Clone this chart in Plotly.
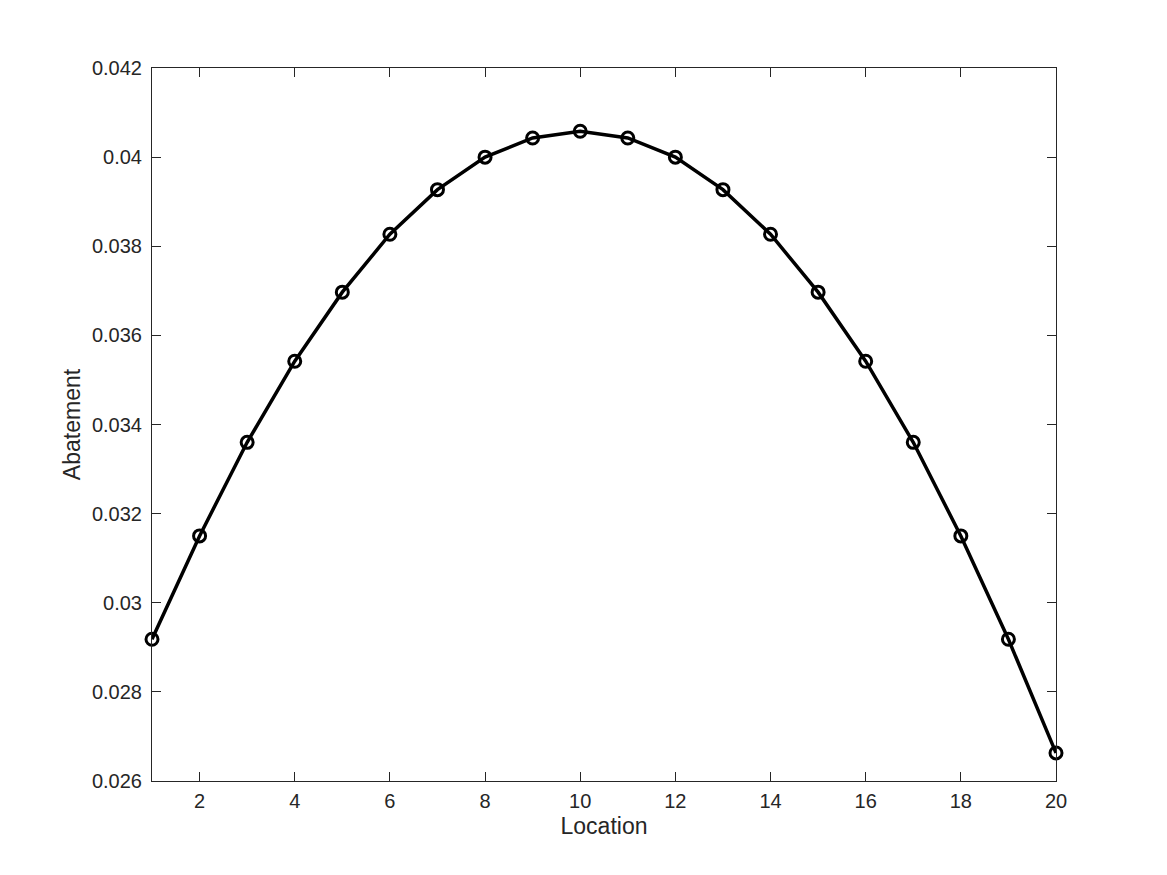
import plotly.graph_objects as go

location = list(range(1, 21))
abatement = [0.02918, 0.03150, 0.03360, 0.03542, 0.03697, 0.03827, 0.03927,
             0.04000, 0.04043, 0.04058, 0.04043, 0.04000, 0.03927, 0.03827,
             0.03697, 0.03542, 0.03360, 0.03150, 0.02918, 0.02663]

x_ticks = list(range(2, 21, 2))
y_ticks = [0.026, 0.028, 0.03, 0.032, 0.034, 0.036, 0.038, 0.04, 0.042]
y_labels = ["0.026", "0.028", "0.03", "0.032", "0.034", "0.036", "0.038", "0.04", "0.042"]

fig = go.Figure()
fig.add_trace(go.Scatter(
    x=location, y=abatement, mode="lines+markers",
    line=dict(color="black", width=3.5),
    marker=dict(symbol="circle-open", size=12, color="black", line=dict(width=3)),
    cliponaxis=False, showlegend=False,
))

axis_common = dict(
    showline=True, linecolor="#262626", linewidth=1, mirror="ticks",
    ticks="inside", ticklen=9, tickwidth=1, tickcolor="#262626",
    showgrid=False, zeroline=False,
    tickfont=dict(family="Liberation Sans, Arial, sans-serif", size=20, color="#262626"),
)

fig.update_layout(
    width=1167, height=875,
    margin=dict(l=144, r=119, t=60, b=102),
    paper_bgcolor="white", plot_bgcolor="white",
    font=dict(family="Liberation Sans, Arial, sans-serif", size=19, color="#262626"),
    xaxis=dict(range=[1, 20], tickvals=x_ticks, ticklabelstandoff=2,
               title=dict(text="Location", standoff=6), **axis_common),
    yaxis=dict(range=[0.026, 0.042], tickvals=y_ticks, ticktext=y_labels, ticklabelstandoff=5,
               title=dict(text="Abatement", standoff=4), **axis_common),
)

fig.write_html("out.html")
